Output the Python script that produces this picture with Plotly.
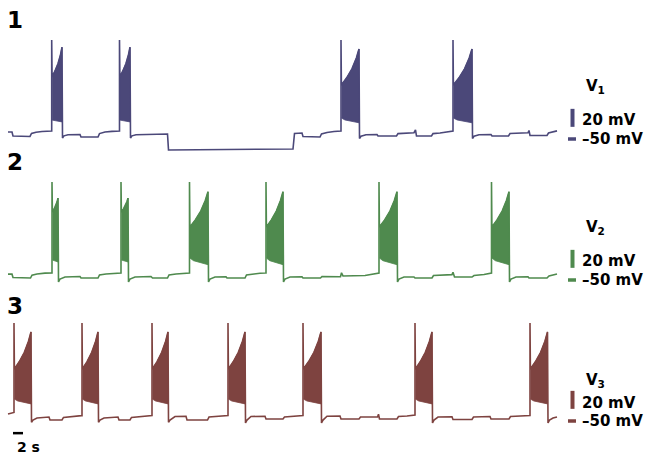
import plotly.graph_objects as go

# ---------------- DATA (time in s, membrane potential in mV) ----------------
# Row 1 (V1) inter-burst trace knots
v1_t = [0, 0.8, 1.0, 4.4, 4.7, 5.6, 6.8, 8.7,
        10.9, 11.2, 12.0, 14.4, 14.6, 18.0, 18.3, 19.4, 20.8, 22.2,
        24.5, 24.8, 25.6, 28.6, 28.8, 31.9, 32.1, 57.0, 57.3, 58.8, 59.0, 62.4, 62.7, 63.8, 65.2, 66.5,
        70.3, 70.6, 71.6, 73.8, 74.0, 77.7, 78.0, 79.4, 81.2, 81.5, 81.7, 84.7, 85.0, 86.4, 88.0, 88.9,
        92.9, 93.2, 94.2, 96.6, 96.8, 100.1, 100.4, 102.0, 104.0, 104.2, 104.4, 107.8, 108.1, 109.8]
v1_v = [-42.2, -42.2, -46.7, -47.2, -43.9, -42.5, -41.7, -41.1,
        -48.9, -46.5, -45.3, -45.0, -47.8, -47.8, -44.0, -42.2, -41.5, -41.1,
        -48.9, -46.5, -45.3, -45.0, -44.4, -44.4, -62.2, -61.1, -43.9, -43.3, -47.2, -47.8, -44.4, -42.8, -41.7, -41.1,
        -49.4, -47.0, -45.3, -45.0, -46.7, -46.7, -44.0, -43.3, -43.0, -40.0, -46.7, -46.7, -44.0, -43.3, -42.2, -41.1,
        -49.4, -47.0, -45.3, -45.0, -46.7, -46.7, -43.9, -43.3, -43.0, -40.5, -46.1, -46.1, -43.3, -41.0]
v1_burst_start = [8.74, 22.3, 66.6, 89.0]
v1_burst_end = [10.8, 24.4, 70.2, 92.8]
v1_peak = [60, 60, 60, 60]
v1_top_start = [19, 19, 10, 10]
v1_top_end = [52, 52, 50, 50]
v1_bot_start = [-29, -29, -26.7, -26.7]
v1_bot_end = [-31, -31, -32, -32]

# Row 2 (V2)
v2_t = [0, 0.8, 1.0, 4.5, 4.8, 5.8, 7.4, 8.7,
        10.1, 10.4, 11.4, 14.4, 14.6, 18.0, 18.3, 19.6, 21.2, 22.5,
        24.1, 24.4, 25.4, 28.6, 28.9, 31.9, 32.2, 33.6, 35.2, 36.2,
        40.1, 40.4, 41.4, 43.6, 43.8, 47.4, 47.7, 49.0, 50.4, 51.5,
        55.1, 55.4, 56.4, 58.8, 59.0, 62.5, 62.8, 66.5, 66.7, 67.0, 71.4, 72.8, 74.1,
        77.9, 78.2, 79.2, 81.2, 81.4, 84.8, 85.1, 87.4, 88.8, 89.0, 89.3, 92.8, 93.2, 95.2, 96.6,
        100.3, 100.6, 101.6, 104.0, 104.2, 107.8, 108.2, 109.4, 109.8]
v2_v = [-43.5, -43.5, -47.2, -47.8, -44.6, -43.3, -42.4, -42.2,
        -52.2, -49.0, -46.7, -46.1, -47.8, -47.8, -44.4, -43.3, -42.5, -42.2,
        -52.2, -49.0, -46.7, -46.1, -47.8, -47.8, -44.4, -43.3, -42.5, -42.2,
        -52.2, -49.0, -46.7, -46.4, -47.8, -47.8, -44.4, -43.3, -42.5, -42.2,
        -52.2, -49.0, -46.7, -46.4, -47.8, -47.8, -46.1, -46.4, -42.0, -45.5, -45.0, -43.3, -42.2,
        -52.2, -49.0, -46.7, -46.7, -47.8, -47.8, -45.0, -44.4, -44.0, -41.5, -46.7, -46.7, -45.0, -43.9, -42.2,
        -52.2, -49.0, -46.7, -46.4, -47.8, -47.8, -45.6, -44.4, -43.3]
v2_burst_start = [8.8, 22.6, 36.3, 51.6, 74.2, 96.7]
v2_burst_end = [10.0, 24.0, 40.0, 55.0, 77.8, 100.2]
v2_peak = [59, 59, 59, 59, 59, 59]
v2_top_start = [25.6, 25.6, 9, 9, 9, 9]
v2_top_end = [41, 41, 48, 48, 48, 48]
v2_bot_start = [-27.8, -27.8, -25.6, -25.6, -25.6, -25.6]
v2_bot_end = [-30, -30, -33, -33, -33, -33]

# Row 3 (V3)
v3_t = [0, 0.6, 1.1,
        4.7, 5.0, 5.8, 8.2, 8.4, 10.8, 11.1, 12.4, 14.7,
        18.1, 18.4, 19.2, 22.0, 22.2, 24.4, 24.7, 26.4, 28.7,
        32.1, 32.4, 33.4, 35.6, 35.8, 39.9, 40.2, 42.0, 43.9,
        47.5, 47.8, 48.6, 51.4, 51.6, 55.0, 55.3, 57.0, 58.9,
        62.7, 63.0, 63.8, 66.4, 66.6, 70.2, 70.5, 73.9, 74.1, 74.3, 77.8, 78.1, 79.8, 81.3,
        84.9, 85.2, 86.0, 88.8, 89.0, 92.8, 93.1, 96.4, 96.6, 100.2, 100.5, 102.4, 104.3,
        108.0, 108.3, 109.0, 109.8]
v3_v = [-42.2, -41.5, -40.5,
        -51.5, -49.0, -46.7, -45.6, -48.9, -48.9, -46.0, -45.0, -44.0,
        -51.5, -49.0, -46.7, -45.6, -48.9, -48.9, -46.0, -45.0, -44.0,
        -51.5, -49.0, -45.0, -44.7, -48.9, -48.9, -45.6, -44.4, -43.9,
        -52.2, -49.0, -45.0, -44.7, -47.8, -47.8, -45.6, -45.0, -44.0,
        -52.2, -49.0, -44.7, -44.4, -47.8, -47.8, -45.6, -45.6, -42.5, -47.8, -47.8, -45.0, -44.4, -43.5,
        -52.2, -49.0, -45.6, -45.3, -48.3, -48.3, -45.6, -45.0, -47.8, -47.8, -45.0, -44.4, -43.9,
        -52.2, -49.0, -46.7, -45.6]
v3_burst_start = [1.2, 14.8, 28.8, 44.0, 59.0, 81.4, 104.4]
v3_burst_end = [4.6, 18.0, 32.0, 47.4, 62.6, 84.8, 107.9]
v3_peak = [59, 59, 59, 59, 59, 59, 59]
v3_top_start = [7.8] * 7
v3_top_end = [49] * 7
v3_bot_start = [-25.6] * 7
v3_bot_end = [-31] * 7

# burst envelope profile (fraction of burst duration -> fraction of change)
env_u = [0, 0.3, 0.6, 0.85, 1.0]
env_f = [0, 0.2, 0.45, 0.75, 1.0]
bot_u = [0, 0.2, 1.0]
bot_f = [0, 0.4, 1.0]

labels = ["1", "2", "3"]
cell_names = ["V<sub>1</sub>", "V<sub>2</sub>", "V<sub>3</sub>"]
bar_labels = ["20 mV", "–50 mV"]
time_label = "2 s"
colors = ["#4b4879", "#4f8a4e", "#7e4340"]

# ---------------- LAYOUT HELPERS ----------------
W, H = 649, 461
PX_PER_S = 5.0
X0_PX = 8.0
PX_PER_MV = 0.9
ref_px = [139, 280, 421]   # pixel row of -50 mV in each panel
mv_label_offset = [21, 21.4, 20.5]   # position of "20 mV" label above the -50 mV mark (mV)


def px(x):
    return x / W


def py(y):
    return 1 - y / H


rows = [
    (v1_t, v1_v, v1_burst_start, v1_burst_end, v1_peak, v1_top_start, v1_top_end, v1_bot_start, v1_bot_end),
    (v2_t, v2_v, v2_burst_start, v2_burst_end, v2_peak, v2_top_start, v2_top_end, v2_bot_start, v2_bot_end),
    (v3_t, v3_v, v3_burst_start, v3_burst_end, v3_peak, v3_top_start, v3_top_end, v3_bot_start, v3_bot_end),
]

fig = go.Figure()
DT = 0.08

for k, (kt, kv, bs, be, pk, ts, te, b0, b1) in enumerate(rows):
    yax = "y" if k == 0 else f"y{k+1}"
    col = colors[k]
    lx, ly = [], []
    bi = 0
    for t, v in zip(kt, kv):
        while bi < len(bs) and t > bs[bi]:
            t0, t1 = bs[bi], be[bi]
            prev_v = ly[-1] if ly else kv[0]
            lx += [t0, t0, t0 + DT]
            ly += [prev_v, pk[bi], ts[bi]]
            for u, f in zip(env_u[1:], env_f[1:]):
                lx.append(t0 + DT + u * (t1 - t0 - DT))
                ly.append(ts[bi] + f * (te[bi] - ts[bi]))
            # filled burst region
            px_ = [t0 + DT + u * (t1 - t0 - DT) for u in env_u]
            py_ = [ts[bi] + f * (te[bi] - ts[bi]) for f in env_f]
            px_ += [t0 + DT + u * (t1 - t0 - DT) for u in reversed(bot_u)]
            py_ += [b0[bi] + f * (b1[bi] - b0[bi]) for f in reversed(bot_f)]
            fig.add_trace(go.Scatter(x=px_, y=py_, mode="lines", fill="toself",
                                     fillcolor=col, line=dict(color=col, width=0.8),
                                     yaxis=yax, hoverinfo="skip", showlegend=False))
            bi += 1
        lx.append(t)
        ly.append(v)
    fig.add_trace(go.Scatter(x=lx, y=ly, mode="lines", line=dict(color=col, width=1.6),
                             yaxis=yax, hoverinfo="skip", showlegend=False))

# axes
xr = [-X0_PX / PX_PER_S, (W - X0_PX) / PX_PER_S]
layout_axes = {}
for k in range(3):
    top = -50 + ref_px[k] / PX_PER_MV
    bot = -50 - (H - ref_px[k]) / PX_PER_MV
    ax = dict(range=[bot, top], visible=False, fixedrange=True, domain=[0, 1])
    if k > 0:
        ax["overlaying"] = "y"
    layout_axes["yaxis" if k == 0 else f"yaxis{k+1}"] = ax

fig.update_layout(
    width=W, height=H, margin=dict(l=0, r=0, t=0, b=0),
    paper_bgcolor="white", plot_bgcolor="white",
    xaxis=dict(range=xr, visible=False, fixedrange=True),
    **layout_axes,
)

font_b = "DejaVu Sans, Arial, sans-serif"
ann = []
shapes = []
label_y = [20, 162, 306]
vname_y = [87, 227, 380]
for k in range(3):
    yref = "y" if k == 0 else f"y{k+1}"
    ann.append(dict(text=f"<b>{labels[k]}</b>", x=px(5), y=py(label_y[k]), xref="paper", yref="paper",
                    xanchor="left", yanchor="middle", showarrow=False,
                    font=dict(family=font_b, size=23, color="black")))
    ann.append(dict(text=f"<b>{cell_names[k]}</b>", x=px(584), y=py(vname_y[k]), xref="paper", yref="paper",
                    xanchor="left", yanchor="middle", showarrow=False,
                    font=dict(family=font_b, size=15, color="black")))
    ann.append(dict(text=f"<b>{bar_labels[0]}</b>", x=px(580), y=-50 + mv_label_offset[k],
                    xref="paper", yref=yref,
                    xanchor="left", yanchor="middle", showarrow=False,
                    font=dict(family=font_b, size=15, color="black")))
    ann.append(dict(text=f"<b>{bar_labels[1]}</b>", x=px(580), y=-50, xref="paper", yref=yref,
                    xanchor="left", yanchor="middle", showarrow=False,
                    font=dict(family=font_b, size=15, color="black")))
    # 20 mV bar
    shapes.append(dict(type="line", xref="paper", yref=yref, x0=px(572.5), x1=px(572.5),
                       y0=-50 + 13.5, y1=-50 + 33.5, line=dict(color=colors[k], width=4)))
    # -50 mV mark
    shapes.append(dict(type="line", xref="paper", yref=yref, x0=px(568), x1=px(576),
                       y0=-50, y1=-50, line=dict(color=colors[k], width=3.5)))

# time scale bar: 2 s
shapes.append(dict(type="line", xref="x", yref="y3", x0=1.0, x1=3.0, y0=-63.5, y1=-63.5,
                   line=dict(color="black", width=2.5)))
ann.append(dict(text=f"<b>{time_label}</b>", x=px(15), y=py(447), xref="paper", yref="paper",
                xanchor="left", yanchor="middle", showarrow=False,
                font=dict(family=font_b, size=14, color="black")))

fig.update_layout(annotations=ann, shapes=shapes)
fig.write_html("out.html")
